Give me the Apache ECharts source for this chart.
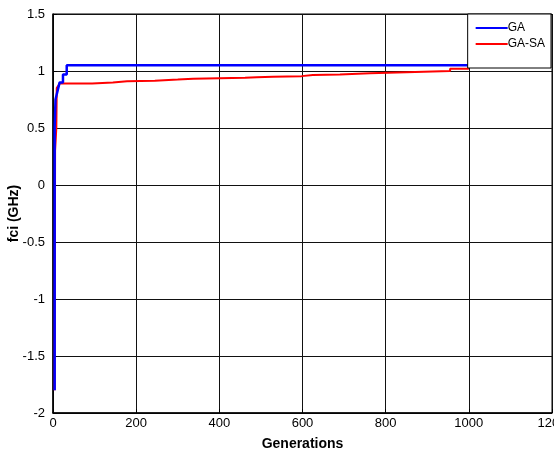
<!DOCTYPE html>
<html>
<head>
<meta charset="utf-8">
<script src="https://cdn.jsdelivr.net/npm/echarts@6/dist/echarts.min.js"></script>
<style>
  html, body { margin: 0; padding: 0; background: #fff; }
  #chart { width: 554px; height: 452px; }
</style>
</head>
<body>
<div id="chart"></div>
<script>
// GA curve (generation, fci)
var gaGen = [4, 4, 6, 16, 24, 24, 33, 33, 1000];
var gaVal = [-1.8, 0.5, 0.75, 0.9, 0.9, 0.97, 0.97, 1.05, 1.05];

// GA-SA curve, step-like slow climb
var gasaGen = [4, 5, 8, 9, 16, 94, 94, 144, 144, 178, 178, 245, 245, 300, 300, 337, 337,
  462, 462, 490, 490, 529, 529, 598, 598, 625, 625, 690, 690, 762, 762, 850, 850, 955, 955, 1000];
var gasaVal = [-1.8, 0.3, 0.5, 0.85, 0.89, 0.89, 0.9, 0.9, 0.91, 0.91, 0.915, 0.915, 0.925, 0.925, 0.932, 0.932, 0.94,
  0.94, 0.945, 0.945, 0.95, 0.95, 0.955, 0.955, 0.965, 0.965, 0.97, 0.97, 0.98, 0.98, 0.99, 0.99, 1.0, 1.0, 1.02, 1.02];

var xTicks = [0, 200, 400, 600, 800, 1000, 1200];
var yTicks = [-2, -1.5, -1, -0.5, 0, 0.5, 1, 1.5];

function pairs(xs, ys) {
  return xs.map(function (x, i) { return [x, ys[i]]; });
}

var chart = echarts.init(document.getElementById('chart'));
chart.setOption({
  animation: false,
  textStyle: { fontFamily: 'Liberation Sans, Arial, sans-serif' },
  grid: {
    left: 53, right: 2, top: 14, bottom: 39,
    containLabel: false,
    outerBoundsMode: 'none',
    show: true, borderColor: '#000', borderWidth: 1
  },
  legend: {
    data: ['GA', 'GA-SA'],
    orient: 'vertical',
    right: 3, top: 14,
    backgroundColor: '#fff',
    borderColor: '#000', borderWidth: 1, borderRadius: 0,
    padding: [8, 6, 18, 8],
    itemGap: 4,
    icon: 'rect',
    itemWidth: 32, itemHeight: 2,
    textStyle: { fontSize: 12, color: '#000', padding: [0, 0, 0, -5] }
  },
  xAxis: {
    type: 'value',
    min: 0, max: 1200, interval: 200,
    name: 'Generations',
    nameLocation: 'middle', nameGap: 24, nameMoveOverlap: false,
    nameTextStyle: { fontSize: 14, fontWeight: 'bold', color: '#000' },
    axisLine: { onZero: false, lineStyle: { color: '#000', width: 1.5 } },
    axisTick: { inside: true, length: 4, lineStyle: { color: '#000' } },
    axisLabel: {
      fontSize: 13, color: '#000', margin: 4,
      formatter: function (v) { return xTicks.indexOf(v) >= 0 ? String(v) : ''; }
    },
    splitLine: { lineStyle: { color: '#111', width: 1 } }
  },
  yAxis: {
    type: 'value',
    min: -2, max: 1.5, interval: 0.5,
    name: 'fci (GHz)',
    nameLocation: 'middle', nameGap: 32, nameMoveOverlap: false,
    nameTextStyle: { fontSize: 14, fontWeight: 'bold', color: '#000' },
    axisLine: { onZero: false, lineStyle: { color: '#000', width: 1.5 } },
    axisTick: { inside: true, length: 4, lineStyle: { color: '#000' } },
    axisLabel: {
      fontSize: 13, color: '#000', margin: 8,
      formatter: function (v) { return yTicks.indexOf(v) >= 0 ? String(v) : ''; }
    },
    splitLine: { lineStyle: { color: '#111', width: 1 } }
  },
  series: [
    {
      name: 'GA-SA',
      type: 'line',
      symbol: 'none',
      data: pairs(gasaGen, gasaVal),
      lineStyle: { color: '#ff0000', width: 2 },
      itemStyle: { color: '#ff0000' },
      z: 2
    },
    {
      name: 'GA',
      type: 'line',
      symbol: 'none',
      data: pairs(gaGen, gaVal),
      lineStyle: { color: '#0000ff', width: 2.5 },
      itemStyle: { color: '#0000ff' },
      z: 3
    }
  ]
});
</script>
</body>
</html>
